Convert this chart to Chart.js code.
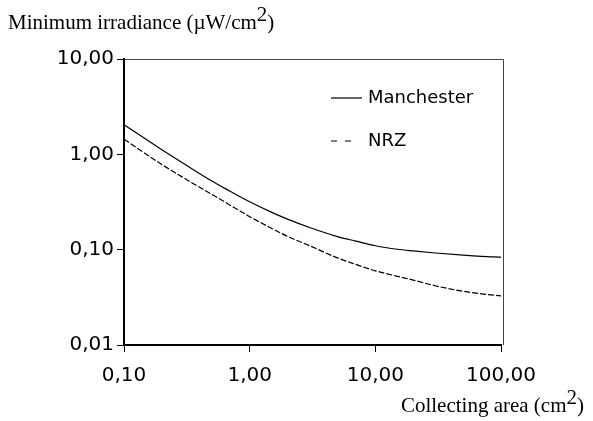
<!DOCTYPE html>
<html lang="en">
<head>
<meta charset="UTF-8">
<title>Minimum irradiance vs collecting area</title>
<script src="https://cdn.jsdelivr.net/npm/chart.js"></script>
<style>
  html, body { margin: 0; padding: 0; background: #fff; }
  #wrap { width: 593px; height: 421px; position: relative; }
</style>
</head>
<body>
<div id="wrap"><canvas id="chart" width="593" height="421"></canvas></div>
<script>
// collecting area (cm2) and minimum irradiance (uW/cm2)
const area = [0.1, 0.2, 0.3, 0.5, 0.7, 1, 1.5, 2, 3, 5, 7, 10, 15, 20, 30, 50, 70, 100];
const manchester = [2.04, 1.12, 0.798, 0.525, 0.41, 0.318, 0.246, 0.209, 0.1706, 0.137, 0.123, 0.110, 0.101, 0.097, 0.0923, 0.0875, 0.0851, 0.0835];
const nrz = [1.44, 0.782, 0.564, 0.38, 0.293, 0.222, 0.167, 0.138, 0.11, 0.082, 0.07, 0.06, 0.0525, 0.048, 0.0418, 0.0366, 0.0344, 0.0327];
const xTicks = [0.1, 1, 10, 100];
const yTicks = [0.01, 0.1, 1, 10];

const fmt = v => Number(v).toFixed(2).replace('.', ',');

// frame, axis titles and legend
const extras = {
    id: 'extras',
    afterDraw(chart) {
        const ctx = chart.ctx;
        const a = chart.chartArea;
        ctx.save();
        // thin top and right frame
        ctx.strokeStyle = '#444';
        ctx.lineWidth = 1;
        ctx.beginPath();
        ctx.moveTo(a.left, a.top + 0.5);
        ctx.lineTo(a.right + 2.5, a.top + 0.5);
        ctx.lineTo(a.right + 2.5, a.bottom);
        ctx.stroke();

        // titles
        ctx.fillStyle = '#000';
        ctx.textBaseline = 'alphabetic';
        ctx.font = '21px "Liberation Serif"';
        const w2 = ctx.measureText('2').width;
        let t = 'Minimum irradiance (\u00b5W/cm';
        ctx.fillText(t, 8, 29);
        let w = ctx.measureText(t).width;
        ctx.fillText('2', 8 + w, 21);
        ctx.fillText(')', 8 + w + w2, 29);

        t = 'Collecting area (cm';
        const tw = ctx.measureText(t + '2)').width;
        const x0 = 584 - tw;
        ctx.fillText(t, x0, 412);
        w = ctx.measureText(t).width;
        ctx.fillText('2', x0 + w, 404);
        ctx.fillText(')', x0 + w + w2, 412);

        // legend
        ctx.strokeStyle = '#000';
        ctx.lineWidth = 1.2;
        ctx.beginPath();
        ctx.moveTo(331, 98);
        ctx.lineTo(362, 98);
        ctx.stroke();
        ctx.setLineDash([6, 8]);
        ctx.beginPath();
        ctx.moveTo(331, 141);
        ctx.lineTo(356, 141);
        ctx.stroke();
        ctx.setLineDash([]);
        ctx.font = '18px "DejaVu Sans"';
        ctx.textBaseline = 'middle';
        ctx.fillText('Manchester', 368, 98);
        ctx.fillText('NRZ', 368, 141);
        ctx.restore();
    }
};

const ctx = document.getElementById('chart').getContext('2d');
new Chart(ctx, {
    type: 'scatter',
    data: {
        datasets: [{
            label: 'Manchester',
            data: area.map((a, i) => ({ x: a, y: manchester[i] })),
            borderColor: '#000',
            borderWidth: 1.2,
            showLine: true,
            pointRadius: 0,
            cubicInterpolationMode: 'monotone'
        }, {
            label: 'NRZ',
            data: area.map((a, i) => ({ x: a, y: nrz[i] })),
            borderColor: '#000',
            borderWidth: 1.2,
            borderDash: [6, 2],
            showLine: true,
            pointRadius: 0,
            cubicInterpolationMode: 'monotone'
        }]
    },
    options: {
        responsive: false,
        animation: false,
        layout: { padding: { left: 0, right: 92, top: 59, bottom: 0 } },
        plugins: {
            legend: { display: false },
            tooltip: { enabled: false }
        },
        scales: {
            x: {
                type: 'logarithmic',
                min: 0.1,
                max: 100,
                afterFit: s => { s.height = 76; },
                afterBuildTicks: s => { s.ticks = xTicks.map(v => ({ value: v })); },
                grid: { drawOnChartArea: false, drawTicks: true, tickLength: 7, color: '#000' },
                border: { display: true, color: '#000', width: 2 },
                ticks: {
                    color: '#000',
                    font: { family: 'DejaVu Sans', size: 20 },
                    padding: 12,
                    maxRotation: 0,
                    callback: v => fmt(v)
                }
            },
            y: {
                type: 'logarithmic',
                min: 0.01,
                max: 10,
                afterFit: s => { s.width = 124; },
                afterBuildTicks: s => { s.ticks = yTicks.map(v => ({ value: v })); },
                grid: { drawOnChartArea: false, drawTicks: true, tickLength: 7, color: '#000' },
                border: { display: true, color: '#000', width: 2 },
                ticks: {
                    color: '#000',
                    font: { family: 'DejaVu Sans', size: 20 },
                    padding: 3,
                    callback: v => fmt(v)
                }
            }
        }
    },
    plugins: [extras]
});
</script>
</body>
</html>
